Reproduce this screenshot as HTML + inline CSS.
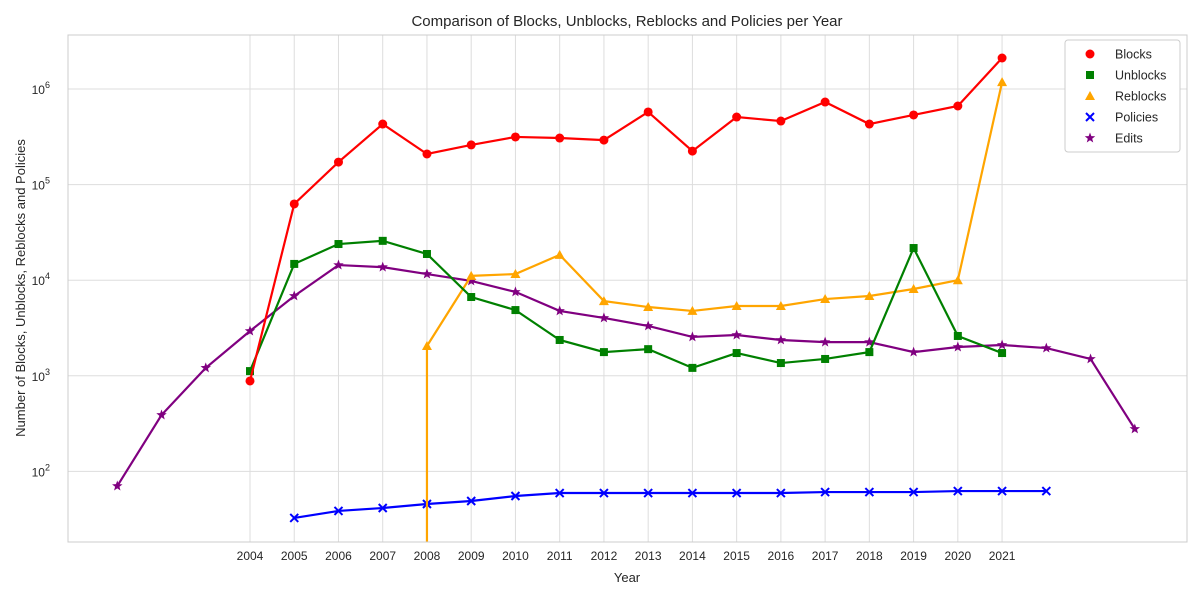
<!DOCTYPE html>
<html><head><meta charset="utf-8"><style>
body{margin:0;background:#fff;font-family:"Liberation Sans",Arial,sans-serif;}
svg text{font-family:"Liberation Sans",Arial,sans-serif;fill:#262626;}
</style></head><body>
<svg id="chart" width="1200" height="600" xmlns="http://www.w3.org/2000/svg">
<text x="627" y="26" font-size="15" text-anchor="middle">Comparison of Blocks, Unblocks, Reblocks and Policies per Year</text>
<text x="627" y="582" font-size="13" text-anchor="middle">Year</text>
<text transform="translate(25,288) rotate(-90)" font-size="13" text-anchor="middle">Number of Blocks, Unblocks, Reblocks and Policies</text>
<g id="grid"></g><g id="series"></g><g id="ticks"></g>
<rect x="68" y="35" width="1119" height="507" fill="none" stroke="#ccc" stroke-width="1"/>
<g id="legend"></g>
</svg>
<script>
const tickYears=[2004,2005,2006,2007,2008,2009,2010,2011,2012,2013,2014,2015,2016,2017,2018,2019,2020,2021];
const blockYears=[2004,2005,2006,2007,2008,2009,2010,2011,2012,2013,2014,2015,2016,2017,2018,2019,2020,2021];
const blocks=[883,62700,172000,430000,209000,260000,315000,307000,292000,575000,224000,509000,462000,731000,430000,535000,664000,2110000];
const unblocks=[1120,14800,23900,25800,18800,6670,4870,2370,1770,1900,1210,1730,1360,1500,1770,21700,2610,1730];
const reblockYears=[2008,2009,2010,2011,2012,2013,2014,2015,2016,2017,2018,2019,2020,2021];
const reblocks=[2050,11100,11600,18400,6050,5240,4770,5370,5370,6350,6840,8090,10000,1180000];
const policyYears=[2005,2006,2007,2008,2009,2010,2011,2012,2013,2014,2015,2016,2017,2018,2019,2020,2021,2022];
const policies=[32.6,38.6,41.4,45.6,49,55.3,59.4,59.4,59.4,59.4,59.4,59.4,60.8,60.8,60.8,62.3,62.3,62.3];
const editYears=[2001,2002,2003,2004,2005,2006,2007,2008,2009,2010,2011,2012,2013,2014,2015,2016,2017,2018,2019,2020,2021,2022,2023,2024];
const edits=[70.3,389,1210,2940,6840,14400,13700,11600,9820,7540,4770,4030,3320,2550,2670,2370,2250,2250,1770,2000,2100,1950,1500,278];
const decades=[2,3,4,5,6];
const NS="http://www.w3.org/2000/svg";
const X=y=>250+(y-2004)*44.24;
const Y=v=>89-(Math.log10(v)-6)*95.6;
function mk(tag,attrs,parent){const e=document.createElementNS(NS,tag);for(const k in attrs)e.setAttribute(k,attrs[k]);document.getElementById(parent).appendChild(e);return e;}
tickYears.forEach(y=>{
  const l=mk('line',{x1:X(y),x2:X(y),y1:35,y2:542,stroke:'#ddd'},'grid');
  
  
  const t=mk('text',{x:X(y),y:560,'font-size':12,'text-anchor':'middle'},'ticks');t.textContent=y;
  
  
});
decades.forEach(d=>{
  const l=mk('line',{x1:68,x2:1187,y1:Y(Math.pow(10,d)),y2:Y(Math.pow(10,d)),stroke:'#ddd'},'grid');
  
  
  const t=mk('text',{x:50,y:Y(Math.pow(10,d))+5,'font-size':12,'text-anchor':'end'},'ticks');
  t.innerHTML='10<tspan dy="-6" font-size="9">'+d+'</tspan>';
  
  
});
function marker(type,x,y,c,g){
  let e;
  if(type==='o')e=mk('circle',{cx:x,cy:y,r:4.5,fill:c},g);
  else if(type==='s')e=mk('rect',{x:x-4,y:y-4,width:8,height:8,fill:c},g);
  else if(type==='^')e=mk('polygon',{points:`${x},${y-5} ${x-5},${y+4} ${x+5},${y+4}`,fill:c},g);
  else if(type==='x')e=mk('path',{d:`M${x-4} ${y-4}L${x+4} ${y+4}M${x-4} ${y+4}L${x+4} ${y-4}`,stroke:c,'stroke-width':2},g);
  else {let p=[];for(let i=0;i<10;i++){const r=i%2?2.3:5.5,a=-Math.PI/2+i*Math.PI/5;p.push((x+r*Math.cos(a))+','+(y+r*Math.sin(a)));}e=mk('polygon',{points:p.join(' '),fill:c},g);}
  return e;
}
function series(name,xs,vs,c,m,extra){
  const pts=xs.map((y,i)=>[X(y),Y(vs[i])]);
  let d=pts.map((p,i)=>(i?'L':'M')+p[0]+' '+p[1]).join('');
  if(extra)d='M'+pts[0][0]+' 542'+d.replace('M','L');
  const l=mk('path',{d:d,fill:'none',stroke:c,'stroke-width':2.2},'series');
  
  
  pts.forEach(p=>{const e=marker(m,p[0],p[1],c,'series');
    
    });
}
series('edits',editYears,edits,'purple','*');
series('policies',policyYears,policies,'blue','x');
series('reblocks',reblockYears,reblocks,'orange','^',true);
series('unblocks',blockYears,unblocks,'green','s');
series('blocks',blockYears,blocks,'red','o');
const lg=mk('rect',{x:1065,y:40,width:115,height:112,fill:'#fff',stroke:'#ccc',rx:3},'legend');


const legNames=['Blocks','Unblocks','Reblocks','Policies','Edits'];
const legColors=['red','green','orange','blue','purple'];
const legMarks=['o','s','^','x','*'];
legNames.forEach((n,i)=>{
  const yy=54+i*21;
  const m=marker(legMarks[i],1090,yy,legColors[i],'legend');
  
  
  const t=mk('text',{x:1115,y:yy+4.5,'font-size':12.5},'legend');t.textContent=n;
  
  
});
</script>
</body></html>
